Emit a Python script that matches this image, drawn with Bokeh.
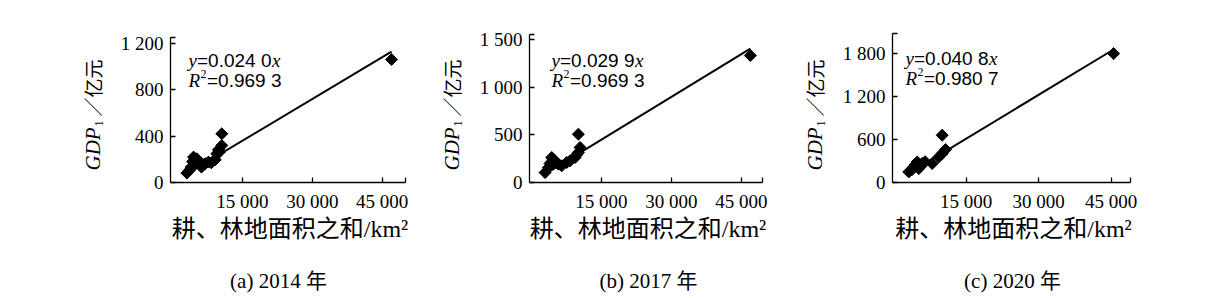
import math
from bokeh.plotting import figure
from bokeh.models import Label, FixedTicker, Range1d
from bokeh.layouts import row
from bokeh.embed import file_html
from bokeh.resources import INLINE

# ---------------- data ----------------
years = ["2014", "2017", "2020"]
panel_tags = ["(a)", "(b)", "(c)"]

area_2014 = [3070, 3570, 4000, 4300, 4500, 4860, 5200, 5930, 6200, 7000, 7700, 8300,
             9150, 9500, 9860, 10000, 10560, 10560, 47000]
gdp_2014 = [81, 104, 133, 180, 219, 162, 204, 176, 133, 162, 176, 170,
            196, 248, 282, 260, 319, 420, 1060]

area_2017 = [2930, 3640, 4000, 4360, 4700, 5070, 5790, 6500, 7570, 8290, 9360, 9700,
             10070, 10430, 10070, 46900]
gdp_2017 = [104, 157, 200, 262, 240, 227, 192, 175, 210, 227, 262, 290,
            314, 367, 506, 1330]

area_2020 = [3120, 3800, 4160, 4500, 4860, 5190, 5500, 5900, 6500, 7960, 9330, 10030,
             10720, 10030, 45500]
gdp_2020 = [148, 180, 218, 250, 287, 195, 230, 265, 290, 265, 357, 404,
            460, 660, 1800]

slopes = [0.0240, 0.0299, 0.0408]
eq_values = ["=0.024 0", "=0.029 9", "=0.040 8"]
r2_values = ["=0.969 3", "=0.969 3", "=0.980 7"]

y_ticks = [[0, 400, 800, 1200], [0, 500, 1000, 1500], [0, 600, 1200, 1800]]
y_tick_labels = [["0", "400", "800", "1 200"], ["0", "500", "1 000", "1 500"],
                 ["0", "600", "1 200", "1 800"]]
x_ticks = [15000, 30000, 45000]
x_tick_labels = ["15 000", "30 000", "45 000"]

x_title = "耕、林地面积之和/km²"
y_title_main = "GDP"
y_title_sub = "1"
y_title_unit = "／亿元"

areas = [area_2014, area_2017, area_2020]
gdps = [gdp_2014, gdp_2017, gdp_2020]

# ---------------- layout (pixels / ranges) ----------------
H = 298
AX_BOTTOM = 182          # pixel row of the x axis
layout = [
    dict(width=412, ax_left=170, dw=235, top=37, xs=-450, xe=50000, ye=1250,
         eq_dx=18, b1=122, b2=102, cap_dx=108),
    dict(width=378, ax_left=117, dw=233, top=34, xs=-400, xe=49500, ye=1550,
         eq_dx=22, b1=122, b2=102, cap_dx=119),
    dict(width=438, ax_left=102, dw=238, top=33, xs=-250, xe=49000, ye=2080,
         eq_dx=13, b1=124, b2=104, cap_dx=120),
]

SERIF = "Liberation Serif"
SANS = "Liberation Sans"
CJK = "Noto Sans CJK SC"
MIX = "Liberation Serif, Noto Sans CJK SC"


def txt(p, x0, y0, dx, dy, text, font, size, style="normal", align="left",
        baseline="alphabetic", angle=0.0):
    p.add_layout(Label(x=x0, y=y0, x_offset=dx, y_offset=dy, text=text,
                       text_font=font, text_font_size=f"{size}px",
                       text_font_style=style, text_align=align,
                       text_baseline=baseline, angle=angle, text_color="black"))


figs = []
for i in range(3):
    L = layout[i]
    W = L["width"]
    upp_x = (L["xe"] - L["xs"]) / L["dw"]
    upp_y = L["ye"] / (AX_BOTTOM - L["top"])
    xr = Range1d(L["xs"] - L["ax_left"] * upp_x, L["xs"] + (W - L["ax_left"]) * upp_x)
    yr = Range1d(-(H - AX_BOTTOM) * upp_y, L["ye"] + L["top"] * upp_y)
    p = figure(width=W, height=H, output_backend="svg", toolbar_location=None,
               title=None, x_range=xr, y_range=yr,
               min_border=0, min_border_left=0, min_border_right=0,
               min_border_top=0, min_border_bottom=0,
               background_fill_color="white", border_fill_color="white")
    p.outline_line_color = None
    p.grid.visible = False

    # regression line
    xl = [min(areas[i]), max(areas[i])]
    yl = [slopes[i] * v for v in xl]
    p.line(xl, yl, line_color="black", line_width=2)
    # points
    p.scatter(areas[i], gdps[i], marker="square", size=8.5, angle=math.pi / 4,
              fill_color="black", line_color="black")

    # axes placed at data origin, bounded to data region
    xend_tick = L["xe"] - 1
    yend_tick = L["ye"] - 1
    p.xaxis.fixed_location = 0
    p.xaxis.bounds = (L["xs"], L["xe"])
    p.yaxis.fixed_location = L["xs"]
    p.yaxis.bounds = (0, L["ye"])
    p.xaxis.ticker = FixedTicker(ticks=x_ticks + [xend_tick])
    ov = dict(zip(x_ticks, x_tick_labels))
    ov[xend_tick] = ""
    p.xaxis.major_label_overrides = ov
    p.yaxis.ticker = FixedTicker(ticks=y_ticks[i] + [yend_tick])
    ovy = dict(zip(y_ticks[i], y_tick_labels[i]))
    ovy[yend_tick] = ""
    p.yaxis.major_label_overrides = ovy
    for ax in (p.xaxis[0], p.yaxis[0]):
        ax.axis_line_color = "black"
        ax.axis_line_width = 1.3
        ax.major_tick_line_color = "black"
        ax.major_tick_line_width = 1.3
        ax.major_tick_in = 5
        ax.major_tick_out = 0
        ax.minor_tick_line_color = None
        ax.major_label_text_font = SERIF
        ax.major_label_text_font_size = "19px"
        ax.major_label_text_color = "black"
    p.yaxis.major_label_standoff = 7
    p.xaxis.major_label_standoff = 8

    x0, y0 = L["xs"], 0
    # x title (centred under the bounded axis)
    xc = (L["xs"] + L["xe"]) / 2
    txt(p, xc, y0, 2, -46, x_title, MIX, 24, align="center", baseline="middle")

    # rotated y title
    txt(p, x0, y0, -78, 12, y_title_main, SERIF, 21, style="italic",
        baseline="middle", angle=math.pi / 2)
    txt(p, x0, y0, -72, 56, y_title_sub, SERIF, 12, baseline="middle", angle=math.pi / 2)
    txt(p, x0, y0, -78, 66, y_title_unit, CJK, 19, baseline="middle", angle=math.pi / 2)

    # equation text
    dx = L["eq_dx"]
    txt(p, x0, y0, dx, L["b1"], "y", SERIF, 19, style="italic")
    txt(p, x0, y0, dx + 8.5, L["b1"], eq_values[i], SANS, 19)
    txt(p, x0, y0, dx + 83.5, L["b1"], "x", SERIF, 19, style="italic")
    txt(p, x0, y0, dx, L["b2"], "R", SERIF, 19, style="italic")
    txt(p, x0, y0, dx + 12, L["b2"] + 7, "2", SERIF, 12)
    txt(p, x0, y0, dx + 18.5, L["b2"], r2_values[i], SANS, 19)

    # caption
    txt(p, x0, y0, L["cap_dx"], -98, f"{panel_tags[i]} {years[i]} 年", MIX, 21,
        align="center", baseline="middle")

    figs.append(p)

lay = row(*figs)
open("out.html", "w").write(file_html(lay, INLINE))
